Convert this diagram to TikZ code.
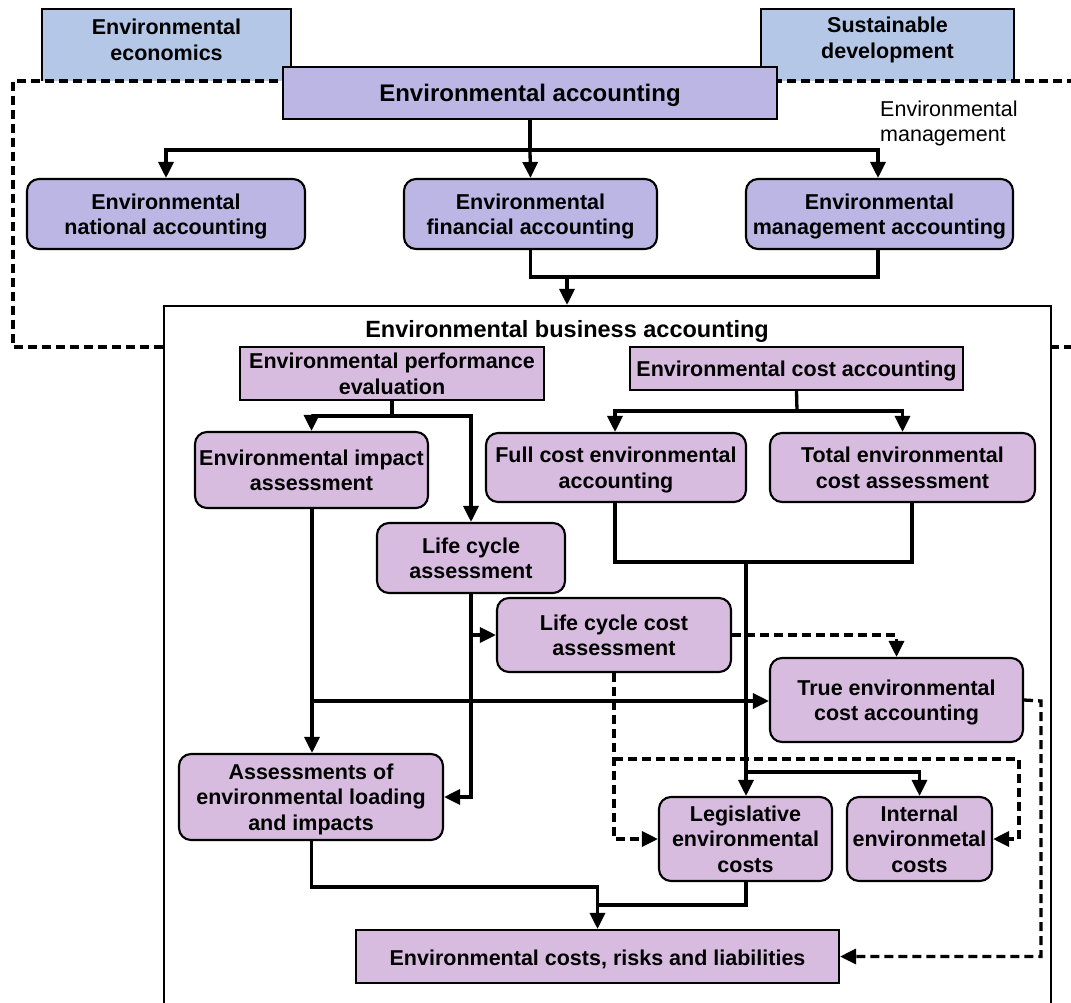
\documentclass[tikz,border=0pt]{standalone}
\usepackage{fontspec}
\setmainfont{Liberation Sans}
\usetikzlibrary{arrows.meta}
\definecolor{bluefill}{HTML}{B4C7E7}
\definecolor{lavfill}{HTML}{BBB6E4}
\definecolor{pinkfill}{HTML}{D7BCE0}
% centred multi-line box text, set a little low in its box
\newcommand\boxlines[1]{\raisebox{-2.7pt}[\height][\depth]{\begin{tabular}{@{}c@{}}#1\end{tabular}}}
\begin{document}
\begin{tikzpicture}[x=1pt,y=-1pt,
  boxtext/.style={font=\fontsize{21.5}{25.5}\selectfont\bfseries, align=center},
  sqbox/.style={boxtext, draw=black, line width=2.1pt, inner sep=0pt},
  onerow/.style={execute at begin node={\rule{0pt}{0.95em}}},
  rbox/.style={sqbox, rounded corners=12pt},
  conn/.style={line width=3.3pt},
  arr/.style={conn, -{Triangle[length=16pt,width=15pt]}},
  darr/.style={arr, dash pattern=on 9pt off 5pt},
  zone/.style={line width=3.2pt, dash pattern=on 9pt off 5pt}
]
\useasboundingbox (0,0) rectangle (1071,1003);

% outer disciplines
\node[fill=bluefill, minimum width=249pt, minimum height=72pt, inner sep=0pt] (econ) at (166.5,45) {};
\draw[line width=2.1pt] (econ.south west) -- (econ.north west) -- (econ.north east) -- (econ.south east);
\node[boxtext] (econtxt) at (166.5,40) {Environmental\\economics};
\node[fill=bluefill, minimum width=253pt, minimum height=72pt, inner sep=0pt] (sust) at (887.5,45) {};
\draw[line width=2.1pt] (sust.south west) -- (sust.north west) -- (sust.north east) -- (sust.south east);
\node[boxtext] (susttxt) at (887.5,40) {Sustainable\\development};

% environmental management zone
\draw[zone] (1090,81) -- (13,81) -- (13,347) -- (1090,347);
\node[font=\fontsize{21.5}{25.5}\selectfont, align=left, anchor=west, inner sep=0pt] (mgmtlbl) at (880,123.5) {Environmental\\management};

% top level
\node[sqbox, onerow, fill=lavfill, minimum width=494pt, minimum height=52pt, font=\fontsize{24}{28}\selectfont\bfseries] (ea) at (530,93) {Environmental accounting};
\node[rbox, fill=lavfill, minimum width=278pt, minimum height=70pt] (nat) at (166,214) {\boxlines{Environmental\\national accounting}};
\node[rbox, fill=lavfill, minimum width=253pt, minimum height=70pt] (fin) at (530.5,214) {\boxlines{Environmental\\financial accounting}};
\node[rbox, fill=lavfill, minimum width=267pt, minimum height=70pt] (mgt) at (879.5,214) {\boxlines{Environmental\\management accounting}};

\coordinate (s1) at (530,150);
\draw[conn] (ea.south) -- (s1);
\draw[arr] (s1) -| (nat.north);
\draw[arr] (s1) -- (fin.north);
\draw[arr] (s1) -| ([xshift=-1.5pt]mgt.north);

% business accounting frame
\node[draw=black, fill=white, line width=2.1pt, minimum width=887pt, minimum height=720pt, inner sep=0pt] (bus) at (607.5,666) {};
\node[font=\fontsize{23.5}{28}\selectfont\bfseries, inner sep=0pt] (bustitle) at (567,331) {Environmental business accounting};

\coordinate (j1) at (567,276);
\draw[conn] (fin.south) -- ++(0,27) -| ([xshift=-1.5pt]mgt.south);
\draw[arr] (j1) -- (j1 |- bus.north);

% business accounting tools
\node[sqbox, fill=pinkfill, minimum width=304pt, minimum height=53pt] (epe) at (392,373.5) {\boxlines{Environmental performance\\evaluation}};
\node[sqbox, onerow, fill=pinkfill, minimum width=333pt, minimum height=43pt] (eca) at (796.5,368.5) {Environmental cost accounting};
\node[rbox, fill=pinkfill, minimum width=233pt, minimum height=76pt] (eia) at (311.5,470) {\boxlines{Environmental impact\\assessment}};
\node[rbox, fill=pinkfill, minimum width=188pt, minimum height=70pt] (lca) at (471,558) {\boxlines{Life cycle\\assessment}};
\node[rbox, fill=pinkfill, minimum width=260pt, minimum height=69pt] (fcea) at (616,467.5) {\boxlines{Full cost environmental\\accounting}};
\node[rbox, fill=pinkfill, minimum width=265pt, minimum height=69pt] (teca) at (902.5,467.5) {\boxlines{Total environmental\\cost assessment}};
\node[rbox, fill=pinkfill, minimum width=234pt, minimum height=74pt] (lcca) at (614,635) {\boxlines{Life cycle cost\\assessment}};
\node[rbox, fill=pinkfill, minimum width=253pt, minimum height=84pt] (true) at (896.5,700) {\boxlines{True environmental\\cost accounting}};
\node[rbox, fill=pinkfill, minimum width=264pt, minimum height=86pt] (aeli) at (311,797) {\boxlines{Assessments of\\environmental loading\\and impacts}};
\node[rbox, fill=pinkfill, minimum width=173pt, minimum height=84pt] (legis) at (745.5,839) {\boxlines{Legislative\\environmental\\costs}};
\node[rbox, fill=pinkfill, minimum width=145pt, minimum height=84pt] (internal) at (919.5,839) {\boxlines{Internal\\environmetal\\costs}};
\node[sqbox, onerow, fill=pinkfill, minimum width=483pt, minimum height=53pt] (costs) at (597.5,956.5) {Environmental costs, risks and liabilities};

% performance evaluation branch
\coordinate (s2) at (392,416);
\draw[conn] (epe.south) -- (s2);
\draw[arr] (s2) -| (eia.north);
\draw[arr] (s2) -| (lca.north);

% cost accounting branch
\coordinate (s3) at (797,411);
\draw[conn] (eca.south) -- (s3);
\draw[arr] (s3) -| ([xshift=-1pt]fcea.north);
\draw[arr] (s3) -| (teca.north);
\draw[conn] ([xshift=-1pt]fcea.south) -- ++(0,59) -| ([xshift=9.5pt]teca.south);
\coordinate (j3) at (746,561);
\draw[arr] (j3) -- (j3 |- legis.north);
\coordinate (j4) at (746,772);
\draw[arr] (j4) -| (internal.north);

% impact assessment paths
\coordinate (j5) at (312,701);
\draw[arr] ([xshift=0.5pt]eia.south) -- ([xshift=1pt]aeli.north);
\draw[arr] (j5) -- (j5 -| true.west);
\draw[arr] (lca.south) |- (aeli.east);
\coordinate (j6) at (471,635);
\draw[arr] (j6) -- (lcca.west);

% life cycle cost links
\draw[darr] (lcca.east) -| (true.north);
\draw[darr] (lcca.south) |- (legis.west);
\coordinate (j7) at (614,759);
\coordinate (c1) at (1019,759);
\draw[darr] (j7) -- (c1) |- (internal.east);
\coordinate (c2) at (1041,701);
\draw[darr] (true.east) -- (c2) |- (costs.east);

% into environmental costs, risks and liabilities
\draw[arr] ([xshift=0.5pt]aeli.south) -- ++(0,46) -| (costs.north);
\coordinate (c3) at (597.5,905);
\draw[conn] ([xshift=0.5pt]legis.south) |- (c3);
\end{tikzpicture}
\end{document}
